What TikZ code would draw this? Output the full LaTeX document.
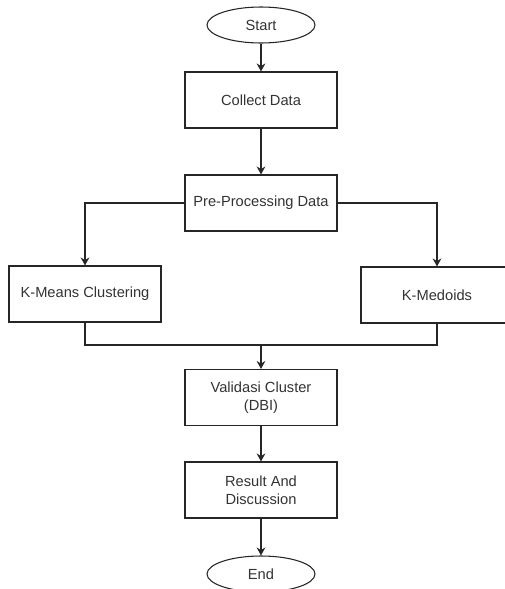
\documentclass[tikz,border=0pt]{standalone}
\usepackage{fontspec}
\setmainfont{Liberation Sans}
\usetikzlibrary{arrows.meta,shapes.geometric}
\begin{document}
\begin{tikzpicture}[x=0.75pt,y=-0.75pt,
  txt/.style={font=\fontsize{11}{13.5}\selectfont, text=black!80, align=center},
  proc/.style={draw=black!85, line width=0.8pt, minimum width=114pt, minimum height=42pt, inner sep=0pt, txt},
  term/.style={draw=black!85, line width=0.8pt, ellipse, minimum width=81pt, minimum height=27pt, inner sep=0pt, txt},
  conn/.style={draw=black!85, line width=0.9pt},
  arr/.style={conn, -{Stealth[length=6pt,width=6.5pt]}}]
\useasboundingbox (0,0) rectangle (505,589);
\clip (0,0) rectangle (505,589);
\node[term] (start) at (261,25) {Start};
\node[proc] (collect) at (261,100) {Collect Data};
\node[proc] (pre) at (261,203) {Pre-Processing Data};
\node[proc] (kmeans) at (85,294) {K-Means Clustering};
\node[proc] (kmed) at (437,295) {K-Medoids};
\node[proc] (valid) at (261,397.5) {Validasi Cluster\\(DBI)};
\node[proc] (result) at (261,490) {Result And\\Discussion};
\node[term] (end) at (261,574) {End};
\coordinate (j) at (261,345);
\draw[arr] (start) -- (collect);
\draw[arr] (collect) -- (pre);
\draw[arr] (pre.west) -| (kmeans.north);
\draw[arr] (pre.east) -| (kmed.north);
\draw[conn] (kmeans.south) |- (j);
\draw[conn] (kmed.south) |- (j);
\draw[arr] (j) -- (valid.north);
\draw[arr] (valid) -- (result);
\draw[arr] (result) -- (end);
\end{tikzpicture}
\end{document}
